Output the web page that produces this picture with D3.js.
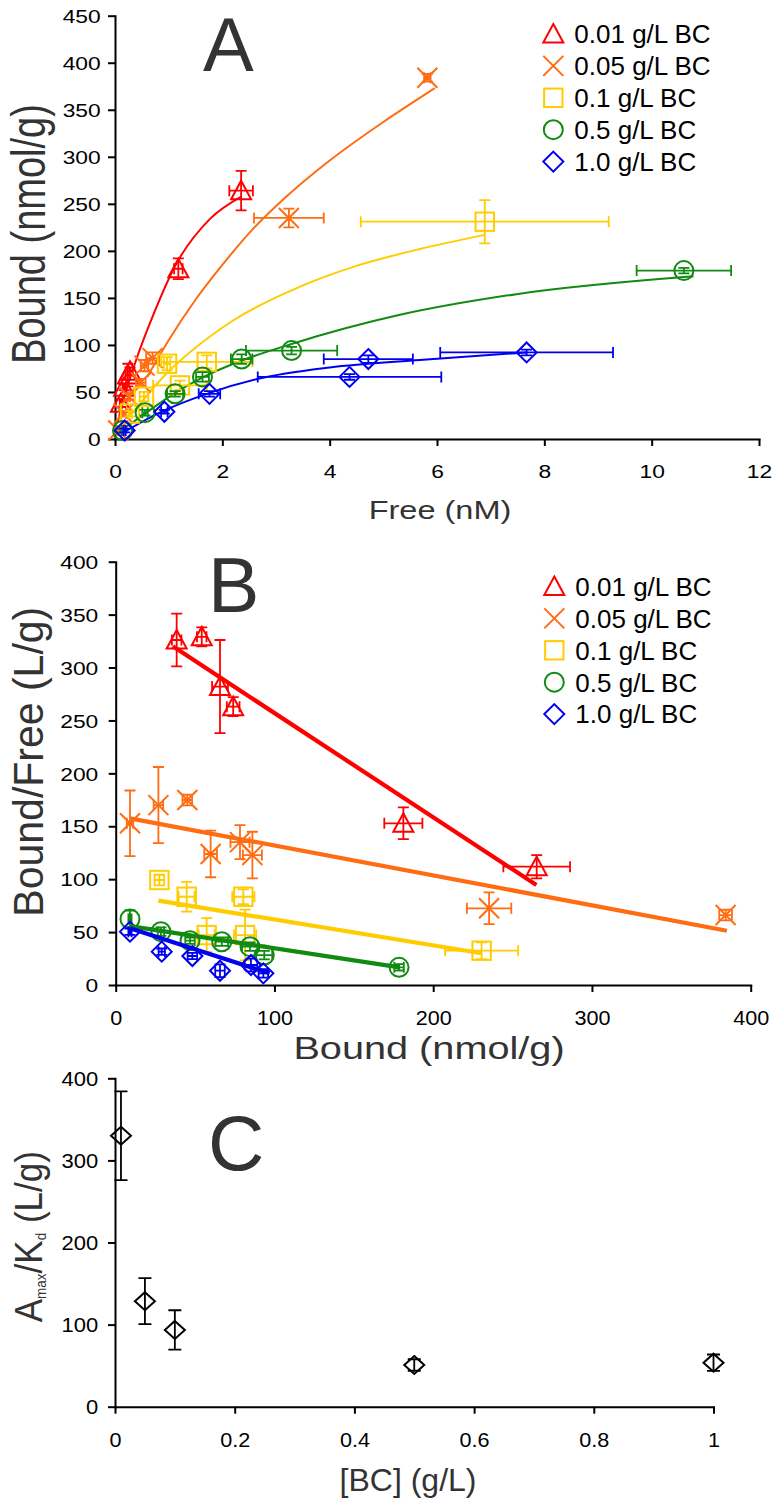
<!DOCTYPE html>
<html><head><meta charset="utf-8">
<script src="https://cdn.jsdelivr.net/npm/d3@7"></script>
<style>body{margin:0;background:#fff} svg{display:block}</style>
</head><body>
<script>
// series
const seriesNames = ["0.01 g/L BC", "0.05 g/L BC", "0.1 g/L BC", "0.5 g/L BC", "1.0 g/L BC"];
const seriesColors = ["#ff0000", "#ff6c12", "#ffcc00", "#118a11", "#0000f0"];
const seriesShapes = ["triangle", "x", "square", "circle", "diamond"];

// panel A : free (nM) vs bound (nmol/g)
const freeA = [
  [0.11, 0.17, 0.24, 0.28, 1.18, 2.35],
  [0.06, 0.16, 0.26, 0.48, 0.55, 0.70, 3.24, 5.82],
  [0.28, 0.54, 0.97, 1.21, 1.71, 6.89],
  [0.14, 0.56, 1.12, 1.63, 2.36, 3.29, 10.6],
  [0.18, 0.92, 1.76, 4.37, 4.72, 7.67]
];
const boundA = [
  [38, 55, 68, 72, 181, 264],
  [9, 27, 45, 60, 78, 86, 235, 384],
  [27, 45, 80, 57, 82, 231],
  [9, 28, 48, 66, 85, 94, 179],
  [9, 29, 48, 66, 85, 92]
];
const freeErrA = [
  [0.02, 0.03, 0.04, 0.05, 0.08, 0.22],
  [0.02, 0.04, 0.02, 0.09, 0.07, 0.12, 0.65, 0.06],
  [0.03, 0.08, 0.06, 0.5, 0.85, 2.31],
  [0.02, 0.05, 0.15, 0.12, 0.2, 0.85, 0.88],
  [0.02, 0.06, 0.2, 1.71, 0.83, 1.61]
];
const boundErrA = [
  [4, 3, 12, 4, 11, 21],
  [2, 3, 3, 4, 6, 6, 10, 4],
  [3, 5, 7, 5, 7, 23],
  [2, 3, 3, 5, 5, 4, 3],
  [2, 2, 3, 3, 4, 3]
];
// fitted curves
const curveFreeA = [
  [0.05, 0.2, 0.4, 0.7, 1.15, 1.77, 2.36],
  [0.6, 1.0, 1.5, 2.0, 2.55, 3.2, 4.0, 5.0, 5.96],
  [0.3, 0.85, 1.27, 1.77, 2.2, 3.45, 4.5, 5.68, 6.89],
  [0.09, 0.56, 1.12, 1.65, 2.39, 3.29, 5.31, 7.48, 10.78],
  [0.16, 0.87, 1.71, 2.67, 4.0, 5.68, 7.67]
];
const curveBoundA = [
  [18, 50, 85, 130, 187, 234, 258],
  [66, 105, 148, 185, 222, 258, 296, 337, 373],
  [26, 63, 86, 109, 126, 162, 184, 202, 217],
  [8, 27, 49, 66, 84, 101, 132, 154, 173],
  [7, 29, 48, 64, 76, 84, 92]
];

// panel B : bound vs bound/free
const boundB = [
  [38.4, 54.2, 65.7, 74, 181.2, 265.2],
  [9, 26.9, 45.1, 59.8, 78.3, 86.1, 235.2, 384.2],
  [27.5, 44.7, 57.3, 80.4, 81.5, 230.5],
  [9, 28.5, 46.8, 66.8, 84.6, 93.6, 178.5],
  [9, 29, 48.3, 65.7, 85.2, 93]
];
const ratioB = [
  [326, 329, 282, 263, 152.8, 111.8],
  [152.8, 170, 174.8, 123.8, 135, 122.8, 72.5, 66.1],
  [99.2, 83.4, 47.2, 83.4, 47.2, 32.4],
  [62.4, 50.4, 41.9, 40.9, 36.2, 28.3, 16.7],
  [50.4, 31.5, 27.4, 13.5, 18.9, 11]
];
const boundErrB = [
  [3, 3, 5, 4, 12, 21],
  [2, 3, 3, 4, 6, 6, 14, 4],
  [3, 5, 5, 7, 7, 23],
  [1, 2, 3, 4, 5, 5, 3],
  [1, 2, 3, 3, 4, 3]
];
const ratioErrB = [
  [25, 9, 44, 9, 15, 11],
  [31, 36, 5, 22, 16, 22, 15, 5],
  [5, 14, 16, 7, 24, 8],
  [8, 4, 3, 4, 4, 4, 3],
  [3, 3, 3, 6, 6, 4]
];
const fitBoundB = [[36, 265], [9, 385], [26.9, 230.5], [9, 179], [9, 97]];
const fitRatioB = [[320, 94.5], [157.5, 51.3], [79.7, 30], [55.7, 16.7], [53.6, 11]];

// panel C
const bcConc = [0.01, 0.05, 0.1, 0.5, 1.0];
const amaxKd = [330, 128.5, 93.5, 50.8, 53.6];
const amaxKdErr = [54, 28, 24, 7, 10];

const ticksAx = [0, 2, 4, 6, 8, 10, 12];
const ticksAy = [0, 50, 100, 150, 200, 250, 300, 350, 400, 450];
const ticksBx = [0, 100, 200, 300, 400];
const ticksBy = [0, 50, 100, 150, 200, 250, 300, 350, 400];
const ticksCx = [0, 0.2, 0.4, 0.6, 0.8, 1];
const ticksCy = [0, 100, 200, 300, 400];

const font = "'Liberation Sans', Arial, Helvetica, sans-serif";
const svg = d3.select("body").append("svg").attr("width", 775).attr("height", 1506);

const xA = d3.scaleLinear().domain([0, 12]).range([115, 759]);
const yA = d3.scaleLinear().domain([0, 450]).range([439, 15.7]);
const xB = d3.scaleLinear().domain([0, 400]).range([115.7, 750.7]);
const yB = d3.scaleLinear().domain([0, 400]).range([985, 561.7]);
const xC = d3.scaleLinear().domain([0, 1]).range([115, 713.5]);
const yC = d3.scaleLinear().domain([0, 400]).range([1406.7, 1078.3]);

function label(x, y, str, size, sx, anchor, fill) {
  return svg.append("text")
    .attr("transform", `translate(${x},${y}) scale(${sx},1)`)
    .attr("text-anchor", anchor).attr("font-family", font)
    .attr("font-size", size).attr("fill", fill).text(str);
}
function vlabel(x, y, str, size, sy, fill) {
  return svg.append("text")
    .attr("transform", `translate(${x},${y}) rotate(-90) scale(1,${sy})`)
    .attr("text-anchor", "middle").attr("font-family", font)
    .attr("font-size", size).attr("fill", fill).text(str);
}

function axes(xs, ys, xt, yt, fmt, xSize, xsx, xOff, ySize, ysx, yOff) {
  const gx = svg.append("g").attr("transform", `translate(0,${ys(0)})`)
    .call(d3.axisBottom(xs).tickValues(xt).tickSize(7).tickSizeOuter(0).tickFormat(fmt));
  const gy = svg.append("g").attr("transform", `translate(${xs(0)},0)`)
    .call(d3.axisLeft(ys).tickValues(yt).tickSize(7).tickSizeOuter(0));
  [gx, gy].forEach(g => {
    g.select(".domain").attr("stroke", "#000").attr("stroke-width", 2).attr("stroke-linecap", "square");
    g.selectAll(".tick line").attr("stroke", "#000").attr("stroke-width", 2);
    g.selectAll("text").attr("font-family", font).attr("fill", "#000");
  });
  gx.selectAll("text").attr("font-size", xSize).attr("y", xOff).attr("dy", null)
    .attr("transform", `scale(${xsx},1)`);
  gy.selectAll("text").attr("font-size", ySize).attr("x", -yOff / ysx).attr("dy", "0.35em")
    .attr("transform", `scale(${ysx},1)`);
}

function marker(g, shape, cx, cy, col, s) {
  const st = p => p.attr("fill", "none").attr("stroke", col).attr("stroke-width", 2);
  if (shape === "triangle") st(g.append("path").attr("d", `M${cx},${cy - s}L${cx + s},${cy + s * 0.85}L${cx - s},${cy + s * 0.85}Z`));
  else if (shape === "x") st(g.append("path").attr("d", `M${cx - s},${cy - s}L${cx + s},${cy + s}M${cx - s},${cy + s}L${cx + s},${cy - s}`));
  else if (shape === "square") st(g.append("rect").attr("x", cx - s * 0.92).attr("y", cy - s * 0.92).attr("width", s * 1.84).attr("height", s * 1.84));
  else if (shape === "circle") st(g.append("circle").attr("cx", cx).attr("cy", cy).attr("r", s * 0.95));
  else st(g.append("path").attr("d", `M${cx},${cy - s}L${cx + s},${cy}L${cx},${cy + s}L${cx - s},${cy}Z`));
}

function errBar(g, xs, ys, x, y, ex, ey, col, cap) {
  let d = "";
  if (ey) {
    const a = ys(y + ey), b = ys(Math.max(0, y - ey)), px = xs(x);
    d += `M${px},${a}V${b}M${px - cap},${a}H${px + cap}M${px - cap},${b}H${px + cap}`;
  }
  if (ex) {
    const a = xs(Math.max(0, x - ex)), b = xs(x + ex), py = ys(y);
    d += `M${a},${py}H${b}M${a},${py - cap}V${py + cap}M${b},${py - cap}V${py + cap}`;
  }
  g.append("path").attr("d", d).attr("fill", "none").attr("stroke", col).attr("stroke-width", 1.8);
}

function legend(x, y0) {
  seriesNames.forEach((n, i) => {
    const cy = y0 + i * 31.9;
    marker(svg, seriesShapes[i], x, cy, seriesColors[i], 10);
    label(x + 21, cy + 9.3, n, 26, 1, "start", "#000");
  });
}

// ---------- panel A ----------
axes(xA, yA, ticksAx, ticksAy, d3.format("d"), 19, 1.2, 39, 19, 1.2, 14.3);
const lineA = d3.line().x(d => xA(d[0])).y(d => yA(d[1])).curve(d3.curveMonotoneX);
curveFreeA.forEach((fr, i) => {
  svg.append("path").attr("d", lineA(fr.map((f, j) => [f, curveBoundA[i][j]])))
    .attr("fill", "none").attr("stroke", seriesColors[i]).attr("stroke-width", 2);
});
freeA.forEach((fr, i) => {
  const g = svg.append("g");
  fr.forEach((f, j) => errBar(g, xA, yA, f, boundA[i][j], freeErrA[i][j], boundErrA[i][j], seriesColors[i], 5.5));
  fr.forEach((f, j) => marker(g, seriesShapes[i], xA(f), yA(boundA[i][j]), seriesColors[i], 10));
});
legend(553.3, 34);
label(203, 71, "A", 76, 1, "start", "#333");
label(440, 519, "Free (nM)", 26, 1.25, "middle", "#333");
vlabel(45, 234, "Bound (nmol/g)", 38, 1.28, "#333");

// ---------- panel B ----------
axes(xB, yB, ticksBx, ticksBy, d3.format("d"), 21, 1.03, 40, 19, 1.2, 17.4);
boundB.forEach((bd, i) => {
  const g = svg.append("g");
  bd.forEach((b, j) => errBar(g, xB, yB, b, ratioB[i][j], boundErrB[i][j], ratioErrB[i][j], seriesColors[i], 5.5));
  bd.forEach((b, j) => marker(g, seriesShapes[i], xB(b), yB(ratioB[i][j]), seriesColors[i], 10));
});
const lineB = d3.line().x(d => xB(d[0])).y(d => yB(d[1]));
fitBoundB.forEach((fb, i) => {
  svg.append("path").attr("d", lineB(fb.map((b, j) => [b, fitRatioB[i][j]])))
    .attr("fill", "none").attr("stroke", seriesColors[i]).attr("stroke-width", 4.2);
});
legend(554.3, 586.5);
label(208, 611.7, "B", 77, 1, "start", "#333");
label(429, 1059, "Bound (nmol/g)", 32, 1.24, "middle", "#333");
vlabel(43.3, 761.7, "Bound/Free (L/g)", 41, 1.03, "#333");

// ---------- panel C ----------
axes(xC, yC, ticksCx, ticksCy, d3.format("~g"), 21, 1.03, 40, 20, 1.1, 16.7);
const gC = svg.append("g");
bcConc.forEach((c, i) => errBar(gC, xC, yC, c, amaxKd[i], 0, amaxKdErr[i], "#000", 6.5));
bcConc.forEach((c, i) => {
  const cx = xC(c), cy = yC(amaxKd[i]);
  gC.append("path").attr("d", `M${cx},${cy - 9}L${cx + 10},${cy}L${cx},${cy + 9}L${cx - 10},${cy}Z`)
    .attr("fill", "none").attr("stroke", "#000").attr("stroke-width", 2);
});
label(208, 1170, "C", 78, 1, "start", "#333");
label(408, 1491, "[BC] (g/L)", 32, 1, "middle", "#333");
const yt = svg.append("text")
  .attr("transform", "translate(41.7,1236.7) rotate(-90) scale(1,1.13)")
  .attr("text-anchor", "middle").attr("font-family", font).attr("font-size", 35).attr("fill", "#333");
yt.append("tspan").text("A");
yt.append("tspan").attr("font-size", 13.5).attr("dy", 4).text("max");
yt.append("tspan").attr("dy", -4).text("/K");
yt.append("tspan").attr("font-size", 13.5).attr("dy", 4).text("d");
yt.append("tspan").attr("dy", -4).text(" (L/g)");
</script>
</body></html>
